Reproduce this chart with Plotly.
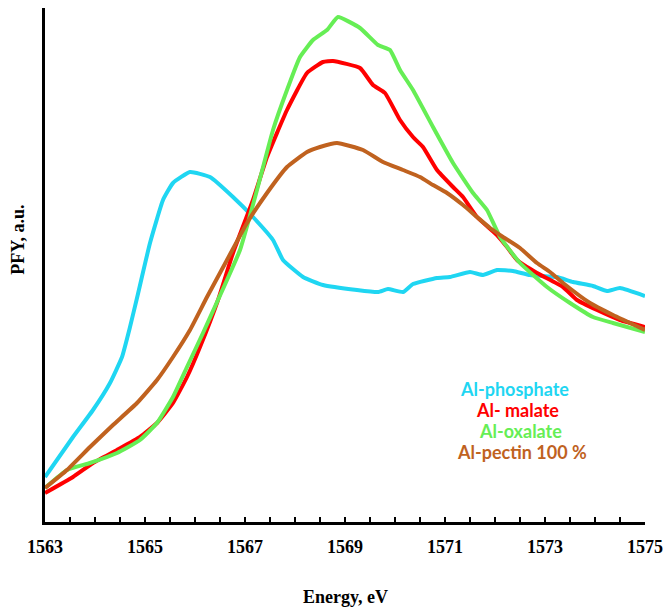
import plotly.graph_objects as go

# Energies (eV) and PFY intensities (arbitrary units)
phos_x = [1563.0, 1563.56, 1563.96, 1564.3, 1564.54, 1564.7, 1564.84, 1565.1, 1565.36, 1565.56,
          1565.9, 1566.3, 1566.76, 1567.16, 1567.56, 1567.76, 1568.16, 1568.56, 1569.24, 1569.66,
          1569.86, 1570.16, 1570.36, 1570.84, 1571.1, 1571.5, 1571.76, 1572.04, 1572.36, 1572.7,
          1573.24, 1573.56, 1573.96, 1574.24, 1574.5, 1575.0]
phos_y = [45, 85, 112, 139, 165, 195, 224, 279, 322, 339,
          350, 345, 325, 305, 282, 262, 245, 237, 232, 230,
          233, 230, 238, 244, 245, 250, 247, 252, 251, 247,
          245, 240, 236, 231, 234, 226]

malate_x = [1563.0, 1563.56, 1563.96, 1564.44, 1564.9, 1565.24, 1565.56, 1565.84, 1566.1, 1566.46,
            1566.76, 1567.16, 1567.44, 1567.84, 1568.24, 1568.56, 1568.76, 1569.3, 1569.56, 1569.8,
            1570.1, 1570.36, 1570.56, 1570.84, 1571.16, 1571.36, 1571.64, 1572.04, 1572.24, 1572.44,
            1572.84, 1573.36, 1573.64, 1574.04, 1574.5, 1575.0]
malate_y = [29, 45, 59, 72, 85, 99, 119, 145, 175, 222,
            269, 322, 365, 412, 449, 460, 461, 454, 437, 429,
            402, 385, 375, 352, 335, 325, 305, 287, 275, 262,
            249, 235, 222, 212, 202, 195]

oxal_x = [1563.0, 1563.44, 1563.9, 1564.44, 1564.9, 1565.24, 1565.56, 1565.84, 1566.16, 1566.46,
          1566.9, 1567.24, 1567.56, 1567.84, 1568.1, 1568.36, 1568.64, 1568.86, 1569.3,
          1569.66, 1569.9, 1570.1, 1570.36, 1570.76, 1571.16, 1571.56, 1571.84, 1572.1, 1572.5,
          1573.04, 1573.5, 1573.96, 1574.36, 1575.0]
oxal_y = [34, 52, 59, 69, 82, 99, 125, 155, 189, 222,
          272, 332, 392, 432, 465, 482, 492, 505, 494,
          477, 472, 452, 432, 395, 359, 329, 312, 285, 259,
          235, 219, 205, 199, 190]

pectin_x = [1563.0, 1563.44, 1563.9, 1564.36, 1564.84, 1565.24, 1565.56, 1565.9, 1566.24, 1566.64,
            1567.04, 1567.44, 1567.84, 1568.24, 1568.5, 1568.84, 1569.36, 1569.76, 1570.16, 1570.5,
            1570.76, 1571.04, 1571.36, 1571.64, 1571.9, 1572.16, 1572.5, 1572.84, 1573.1, 1573.36,
            1573.9, 1574.36, 1575.0]
pectin_y = [34, 52, 75, 97, 119, 142, 165, 192, 225, 262,
            299, 329, 355, 370, 375, 379, 372, 360, 352, 345,
            337, 329, 317, 305, 294, 285, 274, 259, 250, 239,
            219, 207, 192]

series_names = ["Al-phosphate", "Al- malate", "Al-oxalate", "Al-pectin 100 %"]
series_colors = ["#1FD6F2", "#FF0000", "#66EE55", "#C0621F"]

xs = [phos_x, malate_x, oxal_x, pectin_x]
ys = [phos_y, malate_y, oxal_y, pectin_y]

x_ticks = [1563, 1565, 1567, 1569, 1571, 1573, 1575]

fig = go.Figure()
for x, y, n, c in zip(xs, ys, series_names, series_colors):
    fig.add_trace(go.Scatter(x=x, y=y, name=n, mode="lines",
                             line=dict(color=c, width=4, shape="spline", smoothing=0.4)))

serif = "Liberation Serif"
fig.update_layout(
    width=663, height=604,
    margin=dict(l=37, r=26, t=0, b=90),
    paper_bgcolor="white", plot_bgcolor="white",
    showlegend=False,
    xaxis=dict(range=[1563, 1575], showline=True, linecolor="black", linewidth=3,
               showgrid=False, zeroline=False,
               tickmode="array", tickvals=x_ticks, ticktext=[str(t) for t in x_ticks],
               ticks="inside", ticklen=5, tickwidth=2, tickcolor="black",
               minor=dict(dtick=0.5, tick0=1563, ticks="inside", ticklen=5, tickwidth=2,
                          tickcolor="black", showgrid=False),
               tickfont=dict(family=serif, size=18, color="black", weight="bold"),
               ticklabelstandoff=6),
    yaxis=dict(range=[0, 514], showline=True, linecolor="black", linewidth=3,
               showgrid=False, zeroline=False, showticklabels=False, ticks=""),
)

fig.add_annotation(text="<b>Energy, eV</b>", xref="paper", yref="paper", x=0.5, y=-0.146,
                   showarrow=False, font=dict(family=serif, size=18, color="black"),
                   xanchor="center", yanchor="middle")
fig.add_annotation(text="<b>PFY, a.u.</b>", xref="paper", yref="paper", x=-0.045, y=0.549,
                   showarrow=False, textangle=-90, font=dict(family=serif, size=18, color="black"),
                   xanchor="center", yanchor="middle")

leg_y = [0.2588, 0.2179, 0.1770, 0.1362]
leg_x = [0.783, 0.787, 0.792, 0.795]
for n, c, ly, lx in zip(series_names, series_colors, leg_y, leg_x):
    fig.add_annotation(text="<b>" + n + "</b>", xref="paper", yref="paper", x=lx, y=ly,
                       showarrow=False, font=dict(family="Lato", size=18, color=c),
                       xanchor="center", yanchor="middle", borderpad=0)

fig.write_html("out.html")
